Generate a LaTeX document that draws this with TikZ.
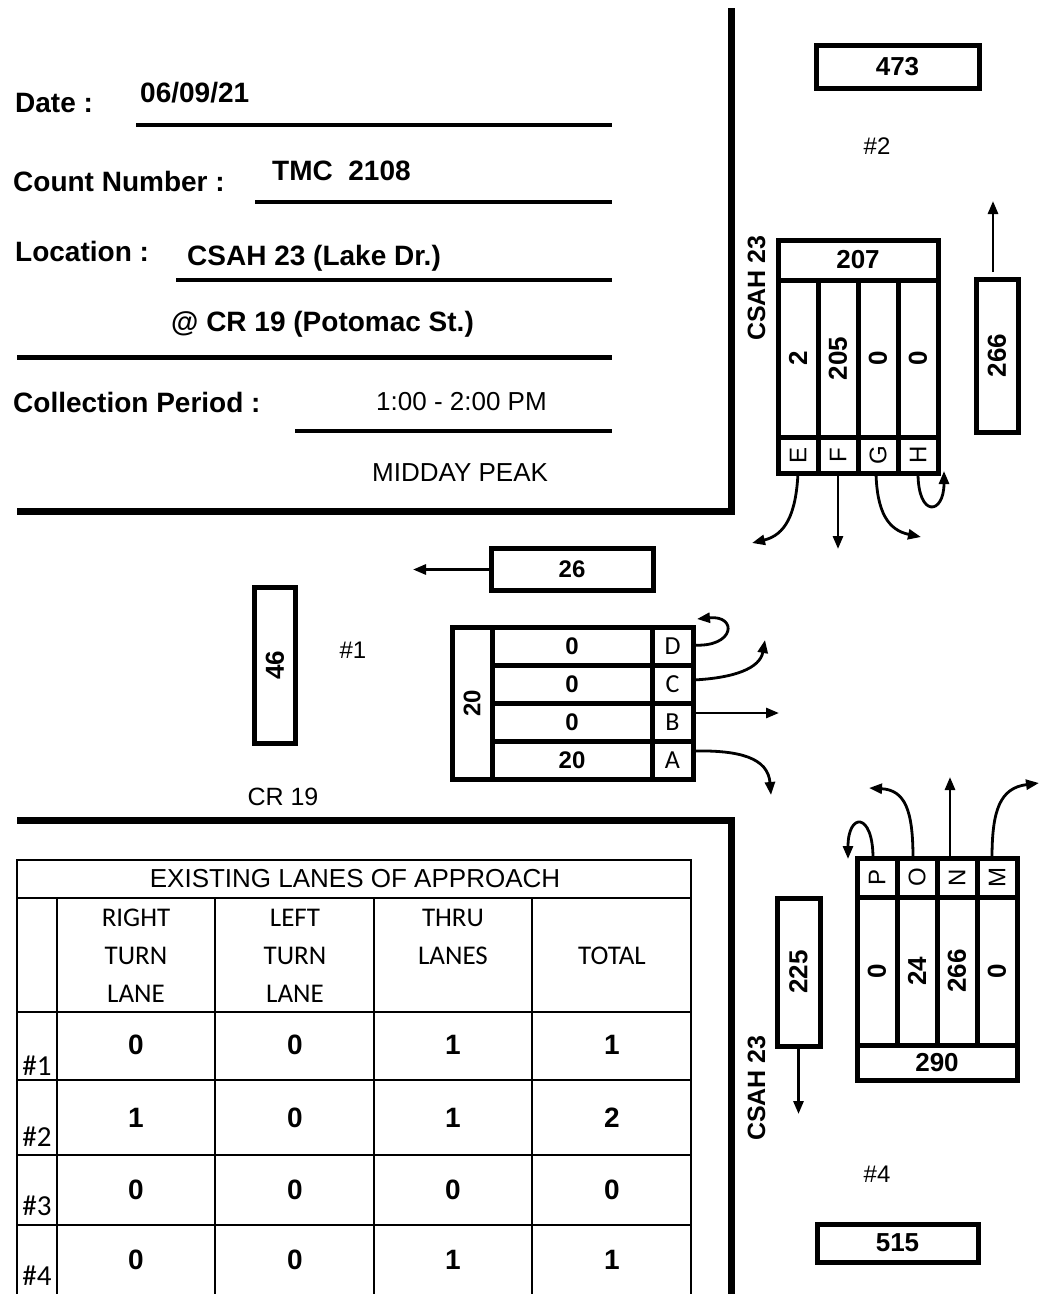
\documentclass[tikz,border=0pt]{standalone}
\usepackage{fontspec}
\setmainfont{Liberation Sans}
\newfontfamily\carl{Carlito}
\usetikzlibrary{arrows.meta}
\newcommand\fsz[1]{\fontsize{#1}{#1}\selectfont}
\begin{document}
\begin{tikzpicture}[x=1pt,y=-1pt,
  bx/.style={draw,line width=5pt,inner sep=0pt,outer sep=0pt,font=\fsz{26}\bfseries},
  lbl/.style={draw,line width=5pt,inner sep=0pt,outer sep=0pt,font=\fsz{24}},
  lblc/.style={draw,line width=5pt,inner sep=0pt,outer sep=0pt,font=\carl\fsz{26}},
  road/.style={line width=7pt},
  uline/.style={line width=4pt},
  arr/.style={line width=2.8pt,-{Triangle[length=13pt,width=10pt]}},
  tl/.style={line width=2.7pt},
  hd/.style={font=\fsz{28}\bfseries,anchor=base west,inner sep=0pt},
  plain/.style={font=\fsz{24},inner sep=0pt},
  thd/.style={font=\carl\fsz{27},inner sep=0pt},
  tval/.style={font=\fsz{28}\bfseries,inner sep=0pt},
  tnum/.style={font=\carl\fsz{29},inner sep=0pt,anchor=base},
  road name/.style={font=\fsz{25}\bfseries,inner sep=0pt,rotate=90}]
\useasboundingbox (0,0) rectangle (1055,1294);
\fill[white] (0,0) rectangle (1055,1294);

% ---------- header ----------
\node[hd] (dateL) at (15,112.7) {Date :};
\node[hd] (dateV) at (140,102.7) {06/09/21};
\draw[uline] (136,125) -- (612,125);
\node[hd] (cntL) at (13,191.7) {Count Number :};
\node[hd] (cntV) at (272,180.7) {TMC\ \ 2108};
\draw[uline] (255,202) -- (612,202);
\node[hd] (locL) at (15,261.7) {Location :};
\node[hd] (locV) at (187,265) {CSAH 23 (Lake Dr.)};
\draw[uline] (176,280) -- (612,280);
\node[hd] (locV2) at (171,331.7) {@ CR 19 (Potomac St.)};
\draw[line width=5pt] (17,357) -- (612,357);
\node[hd] (perL) at (13,412.7) {Collection Period :};
\node[hd,font=\fsz{26}] (perV) at (376,410) {1:00 - 2:00 PM};
\draw[uline] (295,431) -- (612,431);
\node[hd,font=\fsz{26}] (peak) at (372,481.7) {MIDDAY PEAK};

% ---------- road edges ----------
\draw[road] (17,511.5) -- (731,511.5) -- (731,8);
\draw[road] (17,820) -- (731,820) -- (731,1294);

% ---------- approach #2 (top right) ----------
\node[bx,minimum width=163pt,minimum height=43pt] (b473) at (897.5,66.5) {473};
\node[plain] (n2) at (877,146) {\#2};
\node[road name] (csahA) at (756.5,288) {CSAH 23};
\node[bx,minimum width=160pt,minimum height=40pt] (t2) at (858,260) {207};
\node[bx,minimum width=40pt,minimum height=157pt] (vE) at (798,358.5) {\rotatebox{90}{2}};
\node[bx,minimum width=40pt,minimum height=157pt] (vF) at (838,358.5) {\rotatebox{90}{205}};
\node[bx,minimum width=40pt,minimum height=157pt] (vG) at (878,358.5) {\rotatebox{90}{0}};
\node[bx,minimum width=40pt,minimum height=157pt] (vH) at (918,358.5) {\rotatebox{90}{0}};
\node[lbl,minimum width=40pt,minimum height=36pt] (lE) at (798,455) {\rotatebox{90}{E}};
\node[lbl,minimum width=40pt,minimum height=36pt] (lF) at (838,455) {\rotatebox{90}{F}};
\node[lbl,minimum width=40pt,minimum height=36pt] (lG) at (878,455) {\rotatebox{90}{G}};
\node[lbl,minimum width=40pt,minimum height=36pt] (lH) at (918,455) {\rotatebox{90}{H}};
\node[bx,minimum width=42pt,minimum height=153pt] (b266) at (997,355.5) {\rotatebox{90}{266}};
\draw[arr] ([xshift=-4pt,yshift=7pt]b266.north) -- (993,201);
\draw[arr] (lE.south) .. controls (796,515) and (785,535) .. (752,543);
\draw[arr] (lF.south) -- (838,549);
\draw[arr] ([xshift=-2pt]lG.south) .. controls (877,512) and (888,530) .. (921,537);
\draw[arr] (lH.south) .. controls (918,518) and (944,515) .. (944,471);

% ---------- approach #1 (left) ----------
\node[bx,minimum width=162pt,minimum height=42pt,font=\fsz{24}\bfseries] (b26) at (572,569.5) {26};
\draw[arr] (b26.west) -- (413,569.5);
\node[bx,minimum width=41pt,minimum height=156pt] (b46) at (275,665) {\rotatebox{90}{46}};
\node[plain] (n1) at (353,650) {\#1};
\node[plain,font=\fsz{25}] (cr19) at (283,797) {CR 19};
\node[bx,minimum width=40pt,minimum height=152pt,font=\fsz{24}\bfseries] (tot1) at (472,703) {\rotatebox{90}{20}};
\node[bx,minimum width=160pt,minimum height=38pt,font=\fsz{24}\bfseries] (vD) at (572,646) {0};
\node[bx,minimum width=160pt,minimum height=38pt,font=\fsz{24}\bfseries] (vC) at (572,684) {0};
\node[bx,minimum width=160pt,minimum height=38pt,font=\fsz{24}\bfseries] (vB) at (572,722) {0};
\node[bx,minimum width=160pt,minimum height=38pt,font=\fsz{24}\bfseries] (vA) at (572,760) {20};
\node[lblc,minimum width=41pt,minimum height=38pt] (lD) at (672.5,646) {D};
\node[lblc,minimum width=41pt,minimum height=38pt] (lC) at (672.5,684) {C};
\node[lblc,minimum width=41pt,minimum height=38pt] (lB) at (672.5,722) {B};
\node[lblc,minimum width=41pt,minimum height=38pt] (lA) at (672.5,760) {A};
\draw[arr] ([yshift=1pt]lD.east) .. controls (735,648) and (738,615) .. (697,619);
\draw[arr] ([yshift=4pt]lC.east) .. controls (735,678) and (760,668) .. (765,640);
\draw[arr] ([yshift=9pt]lB.east) -- (779,713);
\draw[arr] ([yshift=9pt]lA.east) .. controls (740,750) and (768,758) .. (771,795);

% ---------- approach #4 (bottom right) ----------
\node[lbl,minimum width=40pt,minimum height=39pt] (lP) at (877,877.5) {\rotatebox{90}{P}};
\node[lbl,minimum width=40pt,minimum height=39pt] (lO) at (917,877.5) {\rotatebox{90}{O}};
\node[lbl,minimum width=40pt,minimum height=39pt] (lN) at (957,877.5) {\rotatebox{90}{N}};
\node[lbl,minimum width=40pt,minimum height=39pt] (lM) at (997,877.5) {\rotatebox{90}{M}};
\node[bx,minimum width=40pt,minimum height=148pt] (vP) at (877,971) {\rotatebox{90}{0}};
\node[bx,minimum width=40pt,minimum height=148pt] (vO) at (917,971) {\rotatebox{90}{24}};
\node[bx,minimum width=40pt,minimum height=148pt] (vN) at (957,971) {\rotatebox{90}{266}};
\node[bx,minimum width=40pt,minimum height=148pt] (vM) at (997,971) {\rotatebox{90}{0}};
\node[bx,minimum width=160pt,minimum height=35pt] (t4) at (937,1062.5) {290};
\node[bx,minimum width=43pt,minimum height=148pt] (b225) at (798.5,972) {\rotatebox{90}{225}};
\draw[arr] (b225.south) -- (798.5,1114);
\node[road name] (csahB) at (756.5,1088) {CSAH 23};
\node[plain] (n4) at (877,1174) {\#4};
\node[bx,minimum width=161pt,minimum height=38pt] (b515) at (897.5,1243) {515};
\draw[arr] ([xshift=-4pt]lP.north) .. controls (873,812) and (848,812) .. (848,859);
\draw[arr] ([xshift=-4pt]lO.north) .. controls (913,810) and (905,790) .. (869,788);
\draw[arr] ([xshift=-7pt]lN.north) -- (950,777);
\draw[arr] ([xshift=-5pt]lM.north) .. controls (992,810) and (1000,788) .. (1039,783);

% ---------- table ----------
\draw[tl] (17,1294) -- (17,860) -- (691,860) -- (691,1294);
\foreach \yy in {898,1012,1080,1155,1225} \draw[tl] (17,\yy) -- (691,\yy);
\foreach \xx in {57,215,374,532} \draw[tl] (\xx,898) -- (\xx,1294);
\node[font=\fsz{26},inner sep=0pt] (thead) at (355,879) {EXISTING LANES OF APPROACH};
\node[thd] (h1a) at (136,918) {RIGHT};
\node[thd] (h1b) at (136,956) {TURN};
\node[thd] (h1c) at (136,994) {LANE};
\node[thd] (h2a) at (295,918) {LEFT};
\node[thd] (h2b) at (295,956) {TURN};
\node[thd] (h2c) at (295,994) {LANE};
\node[thd] (h3a) at (453,918) {THRU};
\node[thd] (h3b) at (453,956) {LANES};
\node[thd] (h4) at (612,956) {TOTAL};
\node[tnum] (r1) at (37,1075) {\#1};
\node[tnum] (r2) at (37,1146) {\#2};
\node[tnum] (r3) at (37,1215) {\#3};
\node[tnum] (r4) at (37,1285) {\#4};
\node[tval] (c11) at (136,1045) {0};
\node[tval] (c12) at (295,1045) {0};
\node[tval] (c13) at (453,1045) {1};
\node[tval] (c14) at (612,1045) {1};
\node[tval] (c21) at (136,1118) {1};
\node[tval] (c22) at (295,1118) {0};
\node[tval] (c23) at (453,1118) {1};
\node[tval] (c24) at (612,1118) {2};
\node[tval] (c31) at (136,1190) {0};
\node[tval] (c32) at (295,1190) {0};
\node[tval] (c33) at (453,1190) {0};
\node[tval] (c34) at (612,1190) {0};
\node[tval] (c41) at (136,1260) {0};
\node[tval] (c42) at (295,1260) {0};
\node[tval] (c43) at (453,1260) {1};
\node[tval] (c44) at (612,1260) {1};
\end{tikzpicture}
\end{document}
